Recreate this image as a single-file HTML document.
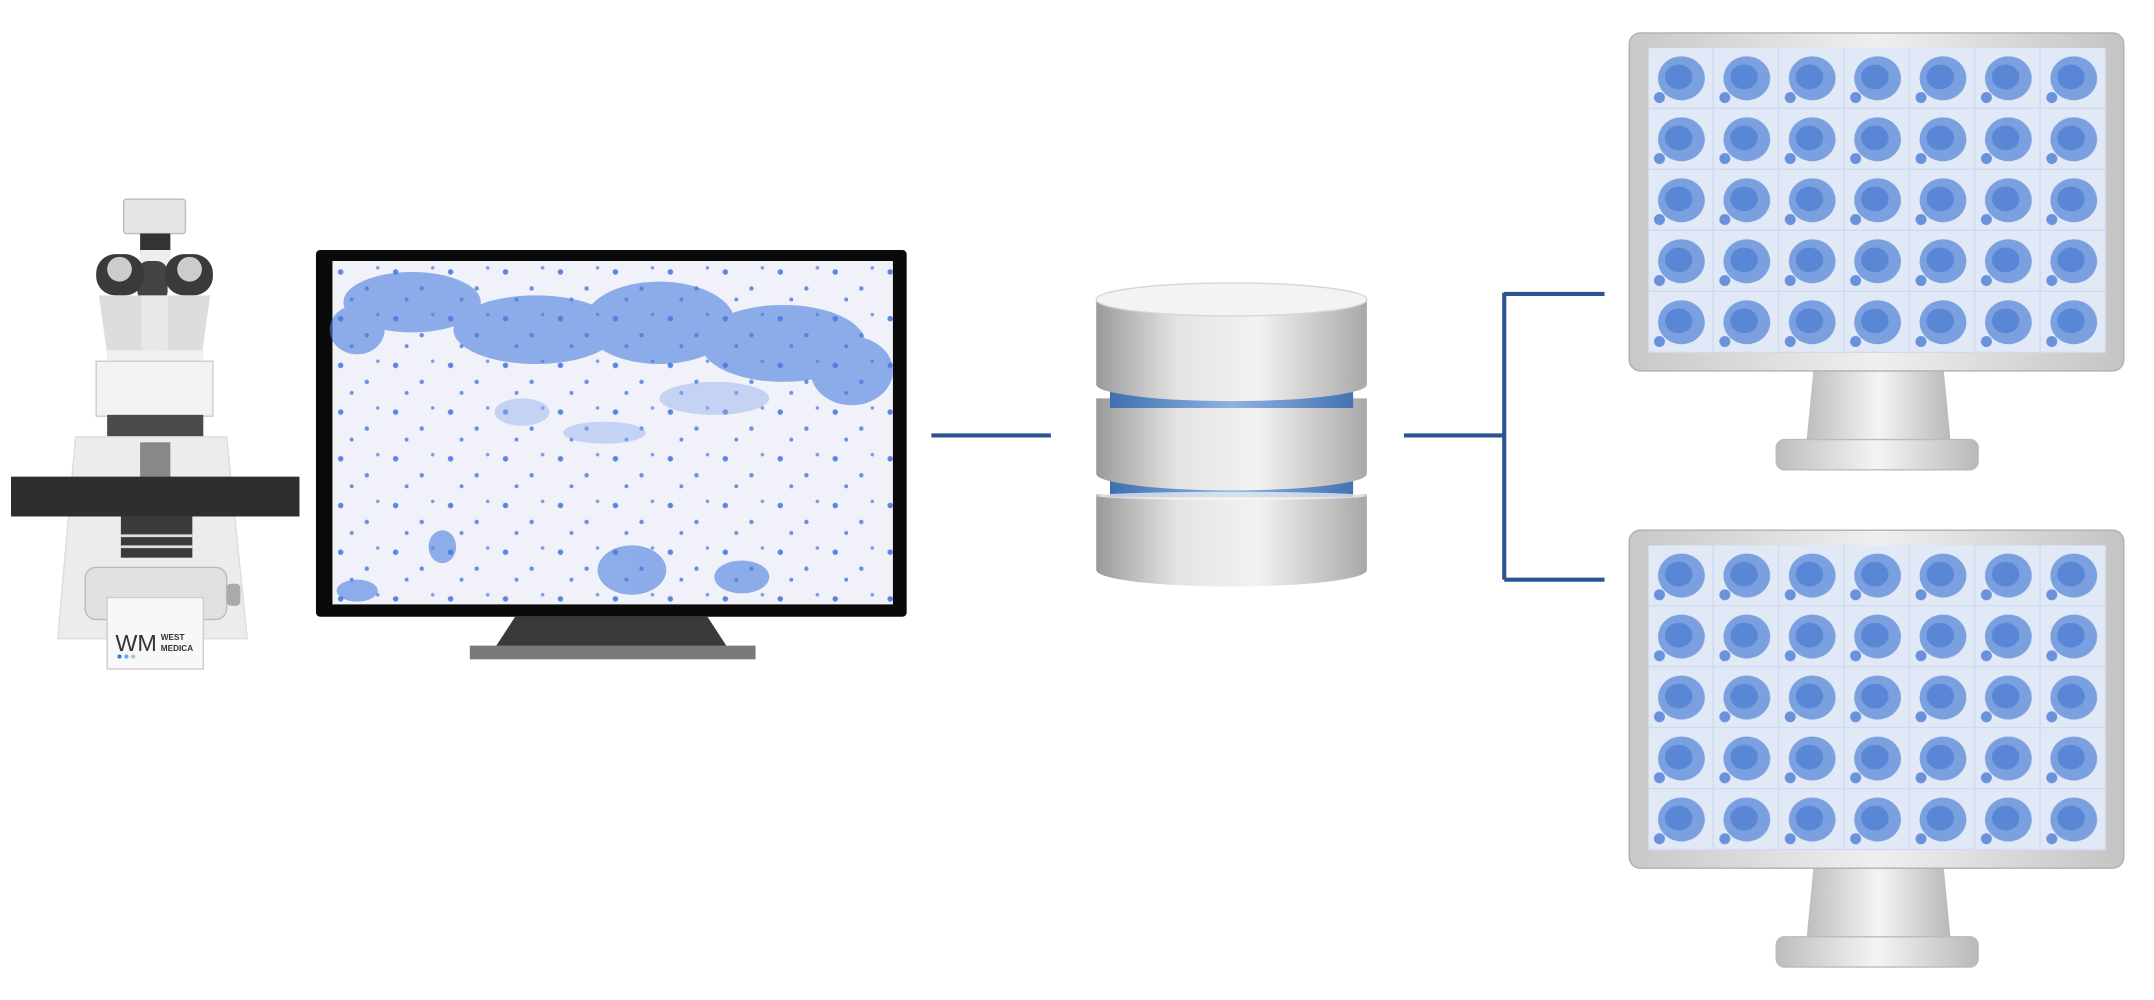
<!DOCTYPE html>
<html><head><style>html,body{margin:0;padding:0;background:#fff;width:2154px;height:1000px;overflow:hidden}</style></head>
<body>
<svg width="2154" height="1000" viewBox="0 0 1568 728" preserveAspectRatio="none" xmlns="http://www.w3.org/2000/svg">
<defs>
<linearGradient id="cyl" x1="0" x2="1"><stop offset="0" stop-color="#9a9a9a"/><stop offset="0.3" stop-color="#e4e4e4"/><stop offset="0.6" stop-color="#f2f2f2"/><stop offset="1" stop-color="#a8a8a8"/></linearGradient>
<linearGradient id="band" x1="0" x2="1"><stop offset="0" stop-color="#3f6fb0"/><stop offset="0.5" stop-color="#8fb3e0"/><stop offset="1" stop-color="#4572b3"/></linearGradient>
<linearGradient id="mon" x1="0" x2="1"><stop offset="0" stop-color="#c8c8c8"/><stop offset="0.5" stop-color="#efefef"/><stop offset="1" stop-color="#c4c4c4"/></linearGradient>
<linearGradient id="neck" x1="0" x2="1"><stop offset="0" stop-color="#bdbdbd"/><stop offset="0.5" stop-color="#f4f4f4"/><stop offset="1" stop-color="#b8b8b8"/></linearGradient>
<pattern id="cells" x="1200" y="35" width="47.6" height="44.4" patternUnits="userSpaceOnUse">
<rect width="47.6" height="44.4" fill="#cfdaf0"/>
<rect x="0" y="0" width="46.6" height="43.4" fill="#e2e9f6"/>
<ellipse cx="24" cy="22" rx="17" ry="16" fill="#7aa0e0"/>
<ellipse cx="22" cy="21" rx="10" ry="9" fill="#5a86d6"/>
<circle cx="8" cy="36" r="4" fill="#6a92dc"/>
</pattern>
<pattern id="cells2" x="1200" y="397" width="47.6" height="44.4" patternUnits="userSpaceOnUse">
<rect width="47.6" height="44.4" fill="#cfdaf0"/>
<rect x="0" y="0" width="46.6" height="43.4" fill="#e2e9f6"/>
<ellipse cx="24" cy="22" rx="17" ry="16" fill="#7aa0e0"/>
<ellipse cx="22" cy="21" rx="10" ry="9" fill="#5a86d6"/>
<circle cx="8" cy="36" r="4" fill="#6a92dc"/>
</pattern>
<pattern id="dots" x="242" y="190" width="40" height="34" patternUnits="userSpaceOnUse">
<rect width="40" height="34" fill="#f0f1f9"/>
<circle cx="6" cy="8" r="2" fill="#5a86e0"/>
<circle cx="25" cy="20" r="1.6" fill="#6890e2"/>
<circle cx="33" cy="5" r="1.3" fill="#7a9ce6"/>
<circle cx="14" cy="28" r="1.4" fill="#6890e2"/>
</pattern>
</defs>

<!-- Microscope -->
<rect x="90" y="145" width="45" height="25" rx="2" fill="#e6e6e6" stroke="#bbb"/>
<rect x="102" y="170" width="22" height="15" fill="#333"/>
<rect x="102" y="182" width="22" height="20" fill="#eee"/>
<rect x="100" y="190" width="22" height="30" rx="8" fill="#444"/>
<rect x="70" y="185" width="35" height="30" rx="14" fill="#3a3a3a"/>
<rect x="120" y="185" width="35" height="30" rx="14" fill="#3a3a3a"/>
<circle cx="87" cy="196" r="9" fill="#ccc"/><circle cx="138" cy="196" r="9" fill="#ccc"/>
<path d="M72 215 L103 215 L103 258 L78 258 Z" fill="#ddd"/>
<path d="M122 215 L153 215 L147 258 L122 258 Z" fill="#ddd"/>
<rect x="103" y="215" width="19" height="45" fill="#e8e8e8"/>
<rect x="78" y="255" width="70" height="10" fill="#f0f0f0"/>
<rect x="70" y="263" width="85" height="40" fill="#f2f2f2" stroke="#ccc"/>
<rect x="78" y="302" width="70" height="22" fill="#4a4a4a"/>
<path d="M55 318 L165 318 L180 465 L42 465 Z" fill="#ececec" stroke="#ddd"/>
<rect x="102" y="322" width="22" height="30" fill="#888"/>
<rect x="8" y="347" width="210" height="29" fill="#2e2e2e"/>
<rect x="88" y="376" width="52" height="30" fill="#3a3a3a"/>
<line x1="88" y1="390" x2="140" y2="390" stroke="#ddd" stroke-width="2"/>
<line x1="88" y1="398" x2="140" y2="398" stroke="#ddd" stroke-width="2"/>
<rect x="62" y="413" width="103" height="38" rx="8" fill="#e0e0e0" stroke="#bbb"/>
<rect x="165" y="425" width="10" height="16" rx="3" fill="#aaa"/>
<rect x="78" y="435" width="70" height="52" fill="#f8f8f8" stroke="#ccc"/>
<text x="84" y="474" font-family="Liberation Sans, sans-serif" font-size="17" fill="#333">WM</text>
<text x="117" y="466" font-family="Liberation Sans, sans-serif" font-size="6" font-weight="bold" fill="#333">WEST</text>
<text x="117" y="474" font-family="Liberation Sans, sans-serif" font-size="6" font-weight="bold" fill="#333">MEDICA</text>
<circle cx="87" cy="478" r="1.5" fill="#2a7de0"/><circle cx="92" cy="478" r="1.5" fill="#6aa8f0"/><circle cx="97" cy="478" r="1.5" fill="#9cc"/>

<!-- Monitor 1 -->
<rect x="230" y="182" width="430" height="267" rx="3" fill="#0a0a0a"/>
<rect x="242" y="190" width="408" height="250" fill="url(#dots)"/>
<g fill="#4a7ee0" opacity="0.6">
<ellipse cx="300" cy="220" rx="50" ry="22"/><ellipse cx="390" cy="240" rx="60" ry="25"/>
<ellipse cx="480" cy="235" rx="55" ry="30"/><ellipse cx="570" cy="250" rx="60" ry="28"/>
<ellipse cx="620" cy="270" rx="30" ry="25"/><ellipse cx="260" cy="240" rx="20" ry="18"/>
<ellipse cx="460" cy="415" rx="25" ry="18"/><ellipse cx="540" cy="420" rx="20" ry="12"/>
<ellipse cx="322" cy="398" rx="10" ry="12"/><ellipse cx="260" cy="430" rx="15" ry="8"/>
</g>
<g fill="#8fb0ec" opacity="0.45"><ellipse cx="380" cy="300" rx="20" ry="10"/><ellipse cx="520" cy="290" rx="40" ry="12"/><ellipse cx="440" cy="315" rx="30" ry="8"/></g>
<path d="M375 449 L515 449 L530 472 L360 472 Z" fill="#3a3a3a"/>
<rect x="342" y="470" width="208" height="10" fill="#7a7a7a"/>

<!-- lines -->
<g stroke="#2c5391" stroke-width="3" fill="none">
<line x1="678" y1="317" x2="765" y2="317"/>
<line x1="1022" y1="317" x2="1095" y2="317"/>
<line x1="1095" y1="213" x2="1095" y2="422"/>
<line x1="1095" y1="214" x2="1168" y2="214"/>
<line x1="1095" y1="422" x2="1168" y2="422"/>
</g>

<!-- Database -->
<rect x="798" y="360" width="197" height="55" fill="url(#cyl)"/>
<ellipse cx="896.5" cy="415" rx="98.5" ry="12" fill="url(#cyl)"/>
<rect x="808" y="345" width="177" height="17" fill="url(#band)"/>
<rect x="798" y="290" width="197" height="55" fill="url(#cyl)"/>
<ellipse cx="896.5" cy="345" rx="98.5" ry="12" fill="url(#cyl)"/>
<ellipse cx="896.5" cy="361" rx="98.5" ry="3" fill="#f6f6f6" opacity="0.7"/>
<rect x="808" y="280" width="177" height="17" fill="url(#band)"/>
<rect x="798" y="218" width="197" height="62" fill="url(#cyl)"/>
<ellipse cx="896.5" cy="280" rx="98.5" ry="12" fill="url(#cyl)"/>
<ellipse cx="896.5" cy="218" rx="98.5" ry="12" fill="#f3f3f3" stroke="#d6d6d6"/>

<!-- Right monitors -->
<g>
<path d="M1320 270 L1415 270 L1420 322 L1315 322 Z" fill="url(#neck)"/>
<rect x="1293" y="320" width="147" height="22" rx="6" fill="url(#neck)" stroke="#bbb"/>
<rect x="1186" y="24" width="360" height="246" rx="8" fill="url(#mon)" stroke="#b0b0b0"/>
<rect x="1200" y="35" width="333" height="222" fill="url(#cells)"/>
</g>
<g>
<path d="M1320 632 L1415 632 L1420 684 L1315 684 Z" fill="url(#neck)"/>
<rect x="1293" y="682" width="147" height="22" rx="6" fill="url(#neck)" stroke="#bbb"/>
<rect x="1186" y="386" width="360" height="246" rx="8" fill="url(#mon)" stroke="#b0b0b0"/>
<rect x="1200" y="397" width="333" height="222" fill="url(#cells2)"/>
</g>
</svg>
</body></html>
